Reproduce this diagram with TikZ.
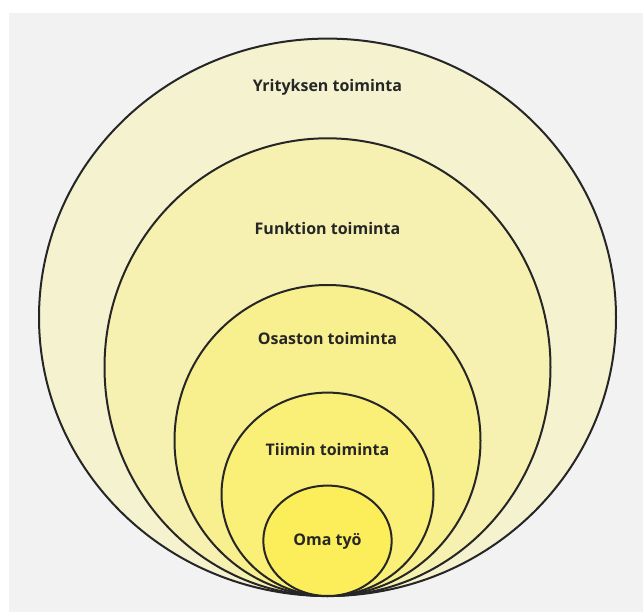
\documentclass[tikz,border=0pt]{standalone}
\usepackage{fontspec}
\setmainfont{Open Sans}
\begin{document}
\begin{tikzpicture}[x=1pt,y=-1pt,
  ring/.style={draw=black!85,line width=2pt},
  lbl/.style={font=\bfseries\fontsize{16}{18}\selectfont,text=black!85}]
\definecolor{panel}{HTML}{F2F2F2}
\definecolor{lvA}{HTML}{F5F2D0}
\definecolor{lvB}{HTML}{F6F1B0}
\definecolor{lvC}{HTML}{F8EF8E}
\definecolor{lvD}{HTML}{FAF078}
\definecolor{lvE}{HTML}{FCEE5A}
\useasboundingbox (0,0) rectangle (643,612);
\fill[white] (0,0) rectangle (643,612);
\fill[panel] (9,13) rectangle (643,612);
% nested ellipses, all touching at the bottom
\filldraw[ring,fill=lvA] (327.5,317.3) ellipse [x radius=288.5, y radius=278.7];
\filldraw[ring,fill=lvB] (327.5,367.2) ellipse [x radius=223, y radius=228.9];
\filldraw[ring,fill=lvC] (327.5,440.5) ellipse [x radius=153, y radius=155.5];
\filldraw[ring,fill=lvD] (327.5,494.3) ellipse [x radius=106, y radius=101.7];
\filldraw[ring,fill=lvE] (327.5,540.8) ellipse [x radius=64.2, y radius=55.2];
\node[lbl] (yritys) at (327.5,87.5) {Yrityksen toiminta};
\node[lbl] (funktio) at (327.5,229) {Funktion toiminta};
\node[lbl] (osasto) at (327.5,339) {Osaston toiminta};
\node[lbl] (tiimi) at (327.5,449) {Tiimin toiminta};
\node[lbl] (oma) at (327.5,541) {Oma työ};
\end{tikzpicture}
\end{document}
